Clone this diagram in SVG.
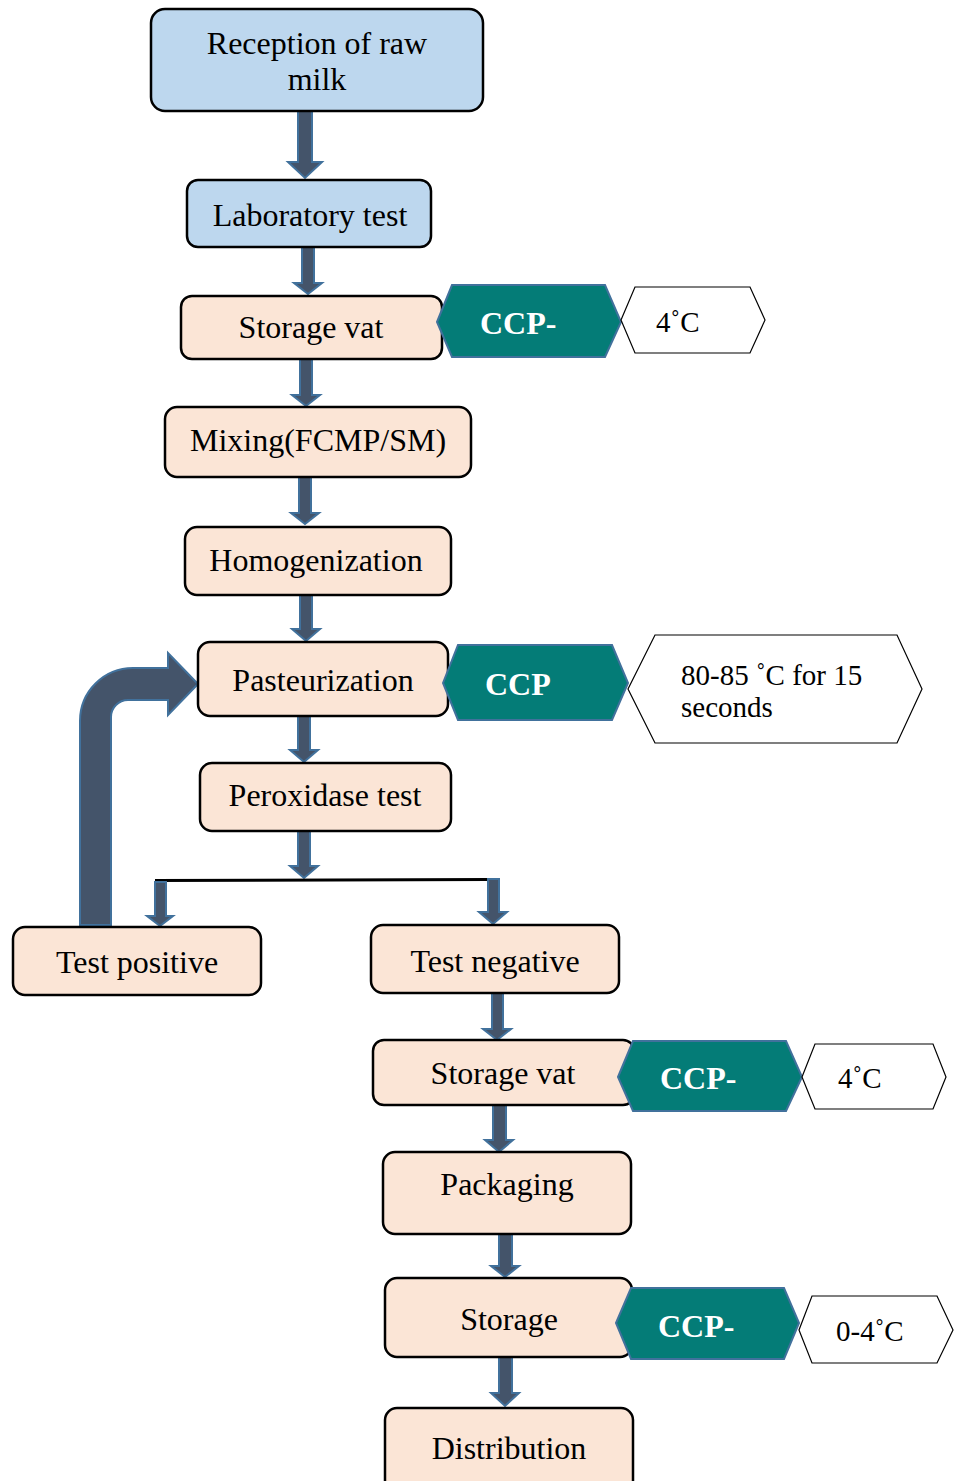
<svg xmlns="http://www.w3.org/2000/svg" width="960" height="1481" viewBox="0 0 960 1481">
<style>
.blue{fill:#BDD7EE;stroke:#000;stroke-width:2.5}
.peach{fill:#FBE5D6;stroke:#000;stroke-width:2.5}
.t{font-family:"Liberation Serif","Times New Roman",serif;font-size:32px;fill:#000;text-anchor:middle}
.ccp{fill:#047C77;stroke:#41719C;stroke-width:2}
.ct{font-family:"Liberation Serif","Times New Roman",serif;font-size:32px;font-weight:bold;fill:#fff}
.wh{fill:#fff;stroke:#000;stroke-width:1.2}
.wt{font-family:"Liberation Serif","Times New Roman",serif;font-size:29px;fill:#000}
.arr{fill:#44546A;stroke:#41719C;stroke-width:2;stroke-linejoin:miter}
</style>
<g id="connectors">
<path class="arr" d="M298,111 H312 V162 H322 L305,178 L288,162 H298 Z"/>
<path class="arr" d="M302,247 H314 V283 H322 L308,294 L294,283 H302 Z"/>
<path class="arr" d="M300,359 H312 V395 H320 L306,406 L292,395 H300 Z"/>
<path class="arr" d="M299,477 H311 V513 H319 L305,524 L291,513 H299 Z"/>
<path class="arr" d="M300,595 H312 V629 H320 L306,641 L292,629 H300 Z"/>
<path class="arr" d="M298,716 H310 V750 H318 L304,762 L290,750 H298 Z"/>
<path class="arr" d="M298,831 H310 V866 H318 L304,878 L290,866 H298 Z"/>
<line x1="155" y1="880.5" x2="490" y2="879.5" stroke="#000" stroke-width="3"/>
<path class="arr" d="M155,882 H166 V916 H173 L160,926 L147,916 H155 Z"/>
<path class="arr" d="M488,879 H499 V912 H507 L493,924 L479,912 H488 Z"/>
<path class="arr" d="M492,993 H503 V1029 H511 L497,1040 L483,1029 H492 Z"/>
<path class="arr" d="M493,1105 H506 V1140 H513 L499,1152 L485,1140 H493 Z"/>
<path class="arr" d="M499,1234 H512 V1266 H519 L505,1277 L491,1266 H499 Z"/>
<path class="arr" d="M499,1357 H512 V1393 H519 L505,1406 L491,1393 H499 Z"/>
<path class="arr" d="M80,925 L80,721 A53,53 0 0 1 133,668 L168,668 L168,653 L198,684 L168,715 L168,700 L128,700 A17,17 0 0 0 111,717 L111,925 Z"/>
</g>
<g id="n-reception">
<rect class="blue" x="151" y="9" width="332" height="102" rx="14"/>
<text class="t" x="317" y="54">Reception of raw</text>
<text class="t" x="317" y="90">milk</text>
</g>
<g id="n-lab">
<rect class="blue" x="187" y="180" width="244" height="67" rx="11"/>
<text class="t" x="310" y="226">Laboratory test</text>
</g>
<g id="n-storagevat1">
<rect class="peach" x="181" y="296" width="261" height="63" rx="11"/>
<text class="t" x="311" y="338">Storage vat</text>
</g>
<g id="n-ccp1">
<polygon class="ccp" points="437,322 452,285 605,285 621,322 605,357 452,357"/>
<text class="ct" x="480" y="334">CCP-</text>
</g>
<g id="n-temp1">
<polygon class="wh" points="621,320 635,287 750,287 765,320 750,353 635,353"/>
<text class="wt" x="656" y="332">4˚C</text>
</g>
<g id="n-mixing">
<rect class="peach" x="165" y="407" width="306" height="70" rx="12"/>
<text class="t" x="318" y="451">Mixing(FCMP/SM)</text>
</g>
<g id="n-homog">
<rect class="peach" x="185" y="527" width="266" height="68" rx="12"/>
<text class="t" x="316" y="571">Homogenization</text>
</g>
<g id="n-past">
<rect class="peach" x="198" y="642" width="250" height="74" rx="12"/>
<text class="t" x="323" y="691">Pasteurization</text>
</g>
<g id="n-ccp2">
<polygon class="ccp" points="443,683 458,645 612,645 628,683 612,720 458,720"/>
<text class="ct" x="485" y="695">CCP</text>
</g>
<g id="n-temp2">
<polygon class="wh" points="628,689 655,635 897,635 922,689 897,743 655,743"/>
<text class="wt" x="681" y="685">80-85 ˚C for 15</text>
<text class="wt" x="681" y="717">seconds</text>
</g>
<g id="n-perox">
<rect class="peach" x="200" y="763" width="251" height="68" rx="12"/>
<text class="t" x="325" y="806">Peroxidase test</text>
</g>
<g id="n-pos">
<rect class="peach" x="13" y="927" width="248" height="68" rx="12"/>
<text class="t" x="137" y="973">Test positive</text>
</g>
<g id="n-neg">
<rect class="peach" x="371" y="925" width="248" height="68" rx="12"/>
<text class="t" x="495" y="972">Test negative</text>
</g>
<g id="n-storagevat2">
<rect class="peach" x="373" y="1040" width="261" height="65" rx="11"/>
<text class="t" x="503" y="1084">Storage vat</text>
</g>
<g id="n-ccp3">
<polygon class="ccp" points="618,1077 633,1041 786,1041 802,1077 786,1111 633,1111"/>
<text class="ct" x="660" y="1089">CCP-</text>
</g>
<g id="n-temp3">
<polygon class="wh" points="802,1077 815,1044 933,1044 946,1077 933,1109 815,1109"/>
<text class="wt" x="838" y="1088">4˚C</text>
</g>
<g id="n-pack">
<rect class="peach" x="383" y="1152" width="248" height="82" rx="12"/>
<text class="t" x="507" y="1195">Packaging</text>
</g>
<g id="n-storage">
<rect class="peach" x="385" y="1278" width="247" height="79" rx="12"/>
<text class="t" x="509" y="1330">Storage</text>
</g>
<g id="n-ccp4">
<polygon class="ccp" points="616,1323 631,1288 784,1288 799,1323 784,1359 631,1359"/>
<text class="ct" x="658" y="1337">CCP-</text>
</g>
<g id="n-temp4">
<polygon class="wh" points="799,1330 812,1296 937,1296 953,1330 937,1363 812,1363"/>
<text class="wt" x="836" y="1341">0-4˚C</text>
</g>
<g id="n-dist">
<rect class="peach" x="385" y="1408" width="248" height="90" rx="12"/>
<text class="t" x="509" y="1459">Distribution</text>
</g>
</svg>
